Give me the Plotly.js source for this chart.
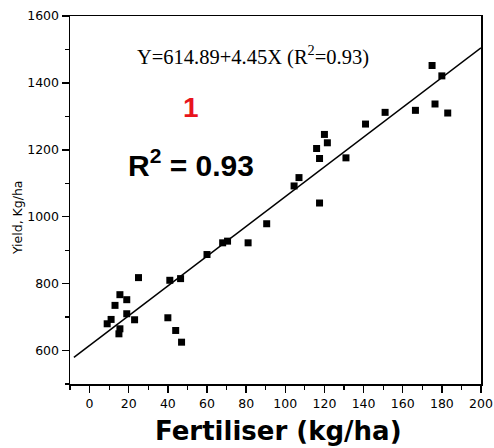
<!DOCTYPE html>
<html>
<head>
<meta charset="utf-8">
<script src="https://cdn.plot.ly/plotly-3.0.1.min.js"></script>
<style>
html,body{margin:0;padding:0;background:#fff;}
#chart{width:494px;height:448px;}
</style>
</head>
<body>
<div id="chart"></div>
<script>
const fertiliser = [9, 11, 13, 15, 15.5, 15.5, 19, 19, 23, 25, 40, 41, 44, 46.5, 47,
  60, 68, 70.5, 81, 90.5,
  104.5, 107, 116, 117.5, 117.5, 120, 121.5, 131, 141,
  151, 166.5, 175, 176.5, 180, 183];
const yieldVals = [680, 693, 735, 650, 665, 767, 710, 752, 692, 818, 698, 810, 660, 815, 625,
  887, 922, 927, 922, 979,
  1092, 1117, 1204, 1041, 1174, 1246, 1221, 1176, 1277,
  1312, 1318, 1452, 1337, 1421, 1310];

// Regression line Y = 614.89 + 4.45X
const intercept = 614.89;
const slope = 4.45;
const lineX = [-8, 200];
const lineY = lineX.map(x => intercept + slope * x);

const xTickVals = [0, 20, 40, 60, 80, 100, 120, 140, 160, 180, 200];
const yTickVals = [600, 800, 1000, 1200, 1400, 1600];

const traces = [
  {
    x: lineX, y: lineY, type: 'scatter', mode: 'lines',
    line: {color: '#000', width: 1.5}, hoverinfo: 'skip'
  },
  {
    x: fertiliser, y: yieldVals, type: 'scatter', mode: 'markers',
    marker: {symbol: 'square', size: 7, color: '#000'}
  }
];

const tickFont = {family: 'DejaVu Sans, Arial, sans-serif', size: 12.5, color: '#000'};

const layout = {
  width: 494, height: 448,
  margin: {l: 70, r: 13, t: 16, b: 64},
  paper_bgcolor: '#fff', plot_bgcolor: '#fff',
  showlegend: false,
  xaxis: {
    range: [-10, 200], tickvals: xTickVals, ticks: 'outside', ticklen: 7, tickwidth: 1.5,
    tickcolor: '#000', showline: true, linecolor: '#000', linewidth: 1.5, mirror: true,
    showgrid: false, zeroline: false, tickfont: tickFont,
    minor: {dtick: 10, tick0: 0, ticks: 'outside', ticklen: 4, tickwidth: 1.2, tickcolor: '#000', showgrid: false}
  },
  yaxis: {
    range: [500, 1600], tickvals: yTickVals, ticks: 'outside', ticklen: 7, tickwidth: 1.5,
    tickcolor: '#000', showline: true, linecolor: '#000', linewidth: 1.5, mirror: true,
    showgrid: false, zeroline: false, tickfont: tickFont,
    minor: {dtick: 100, tick0: 0, ticks: 'outside', ticklen: 4, tickwidth: 1.2, tickcolor: '#000', showgrid: false}
  },
  annotations: [
    {
      text: 'Y=614.89+4.45X (R<sup>2</sup>=0.93)', x: 83.6, y: 1483, xref: 'x', yref: 'y',
      xanchor: 'center', yanchor: 'middle',
      showarrow: false, font: {family: 'Liberation Serif, Times New Roman, serif', size: 20.5, color: '#000'}
    },
    {
      text: '<b>1</b>', x: 51.7, y: 1327, xref: 'x', yref: 'y',
      xanchor: 'center', yanchor: 'middle',
      showarrow: false, font: {family: 'Liberation Sans, Arial, sans-serif', size: 28, color: '#e8141c'}
    },
    {
      text: '<b>R<sup>2</sup> = 0.93</b>', x: 51.7, y: 1162, xref: 'x', yref: 'y',
      xanchor: 'center', yanchor: 'middle',
      showarrow: false, font: {family: 'Liberation Sans, Arial, sans-serif', size: 30, color: '#000'}
    },
    {
      text: 'Yield, Kg/ha', x: -0.128, y: 997, xref: 'paper', yref: 'y', textangle: -90,
      xanchor: 'center', yanchor: 'middle',
      showarrow: false, font: {family: 'DejaVu Sans, Arial, sans-serif', size: 12.5, color: '#000'}
    },
    {
      text: '<b>Fertiliser (kg/ha)</b>', x: 96.7, y: -0.128, xref: 'x', yref: 'paper',
      xanchor: 'center', yanchor: 'middle',
      showarrow: false, font: {family: 'DejaVu Sans, Arial, sans-serif', size: 26, color: '#000'}
    }
  ]
};

Plotly.newPlot('chart', traces, layout, {displayModeBar: false, staticPlot: true});
</script>
</body>
</html>
